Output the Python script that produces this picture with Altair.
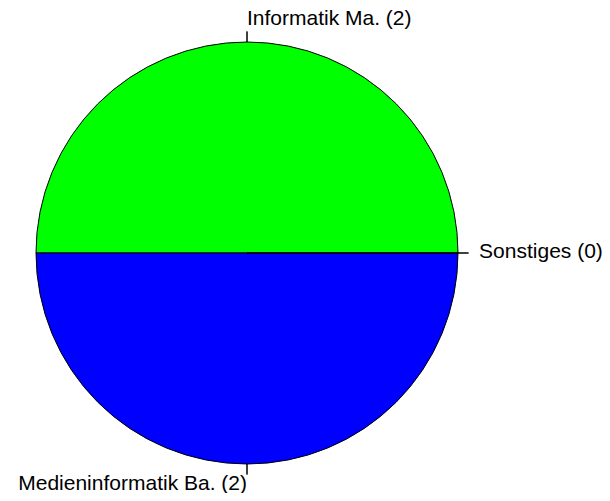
import math
import altair as alt
import pandas as pd

labels = ["Informatik Ma. (2)", "Medieninformatik Ba. (2)", "Sonstiges (0)"]
values = [2, 2, 0]
colors = ["#00FF00", "#0000FF", "#FFFFFF"]

total = sum(values)
starts, ends, mids, aligns = [], [], [], []
acc = 0
for v in values:
    starts.append(acc)
    acc += v
    ends.append(acc)
    mid = (starts[-1] + ends[-1]) / 2
    mids.append(mid)
    ang = 2 * math.pi * mid / total  # R: counter-clockwise from 3 o'clock
    aligns.append("right" if math.cos(ang) < 0 else "left")

df = pd.DataFrame({
    "label": labels, "value": values, "start": starts, "end": ends,
    "mid": mids, "align": aligns, "order": list(range(len(labels))),
})

theta_scale = alt.Scale(domain=[0, total], range=[math.pi / 2, math.pi / 2 - 2 * math.pi])
cx, cy, R = 239, 237, 211

base = alt.Chart(df).encode(x=alt.value(cx), y=alt.value(cy))

pie = base.mark_arc(stroke="black", strokeWidth=1).encode(
    theta=alt.Theta("start:Q", scale=theta_scale, stack=None),
    theta2="end:Q",
    radius=alt.value(R),
    color=alt.Color("label:N", scale=alt.Scale(domain=labels, range=colors), legend=None),
)

ticks = base.mark_arc(stroke="black", strokeWidth=1, fill=None).encode(
    theta=alt.Theta("mid:Q", scale=theta_scale, stack=None),
    theta2="mid:Q",
    radius=alt.value(R),
    radius2=alt.value(R * 1.05),
)

def text_layer(al):
    return base.transform_filter(alt.datum.align == al).mark_text(
        align=al, baseline="middle", font="Liberation Sans", fontSize=21, dy=-1.5, color="black"
    ).encode(
        theta=alt.Theta("mid:Q", scale=theta_scale, stack=None),
        radius=alt.value(R * 1.1),
        text="label:N",
    )

chart = alt.layer(pie, ticks, text_layer("left"), text_layer("right")).properties(
    width=594, height=477, autosize="none",
    padding={"top": 8, "left": 0, "right": 0, "bottom": 0},
).configure_view(stroke=None)

chart.save("out.html", embed_options={"renderer": "svg", "actions": False})
